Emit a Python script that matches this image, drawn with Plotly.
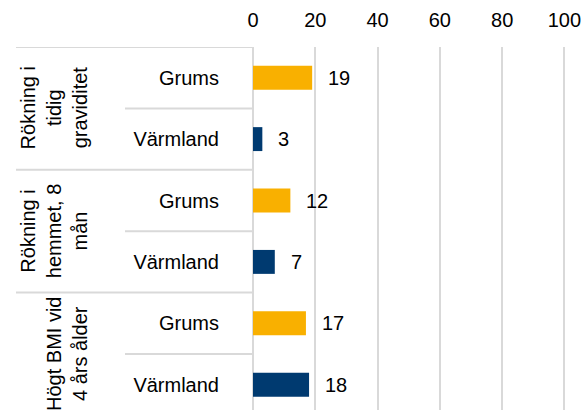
import plotly.graph_objects as go

groups = ["Rökning i<br>tidig<br>graviditet", "Rökning i<br>hemmet, 8<br>mån", "Högt BMI vid<br>4 års ålder"]
regions = ["Grums", "Värmland"]
grums = [19, 12, 17]
varmland = [3, 7, 18]
x_ticks = [0, 20, 40, 60, 80, 100]

colors = {"Grums": "#F9B000", "Värmland": "#003A70"}
series = {"Grums": grums, "Värmland": varmland}

FONT = "Liberation Sans, Arial, sans-serif"
W, H = 586, 410
ML, MR, MT, MB = 253, 6, 47, 0
plot_w = W - ML - MR
n_rows = len(groups) * len(regions)
row_px = 61.4
y_bottom = -0.5 + (H - MT - MB) / row_px

fig = go.Figure()
annotations = []
for ri, reg in enumerate(regions):
    ys = [gi * len(regions) + ri for gi in range(len(groups))]
    vals = series[reg]
    fig.add_trace(go.Bar(
        x=vals, y=ys, orientation="h", width=0.39,
        marker=dict(color=colors[reg], line=dict(width=0)),
        name=reg, showlegend=False, hoverinfo="x+name",
    ))
    for y, v in zip(ys, vals):
        annotations.append(dict(
            x=v, y=y, xref="x", yref="y", text=str(v), showarrow=False,
            xanchor="left", yanchor="middle", xshift=14,
            font=dict(family=FONT, size=20, color="#000000"),
        ))

def px_to_paper(px):
    return (px - ML) / plot_w

shapes = []
line_style = dict(color="#D9D9D9", width=2)
for gi in range(len(groups) + 1):
    yb = gi * len(regions) - 0.5
    shapes.append(dict(type="line", xref="paper", yref="y",
                       x0=px_to_paper(16), x1=0, y0=yb, y1=yb, line=line_style))
for gi in range(len(groups)):
    yi = gi * len(regions) + 0.5
    shapes.append(dict(type="line", xref="paper", yref="y",
                       x0=px_to_paper(125), x1=0, y0=yi, y1=yi, line=line_style))
    annotations.append(dict(
        x=px_to_paper(93), y=gi * len(regions) + (len(regions) - 1) / 2,
        xref="paper", yref="y", text=groups[gi], showarrow=False,
        textangle=-90, xanchor="right", yanchor="middle", align="center",
        font=dict(family=FONT, size=20, color="#000000"),
    ))

fig.update_layout(
    width=W, height=H,
    margin=dict(l=ML, r=MR, t=MT, b=MB, pad=0),
    paper_bgcolor="white", plot_bgcolor="white",
    barmode="overlay",
    font=dict(family=FONT, size=20, color="#000000"),
    shapes=shapes, annotations=annotations,
    xaxis=dict(
        side="top", range=[0, 105], tickvals=x_ticks,
        ticktext=[str(t) for t in x_ticks],
        showgrid=True, gridcolor="#D9D9D9", gridwidth=2,
        zeroline=True, zerolinecolor="#D9D9D9", zerolinewidth=2,
        showline=False, ticks="", ticklabelstandoff=15,
        tickfont=dict(family=FONT, size=20, color="#000000"),
        fixedrange=True,
    ),
    yaxis=dict(
        range=[y_bottom, -0.5],
        tickvals=list(range(n_rows)),
        ticktext=[regions[i % len(regions)] for i in range(n_rows)],
        showgrid=False, zeroline=False, showline=False, ticks="",
        ticklabelstandoff=33,
        tickfont=dict(family=FONT, size=20, color="#000000"),
        fixedrange=True,
    ),
)

fig.write_html(
    "out.html",
    config={"displayModeBar": False},
    post_script="document.body.style.margin='0px';document.body.style.overflow='hidden';",
)
